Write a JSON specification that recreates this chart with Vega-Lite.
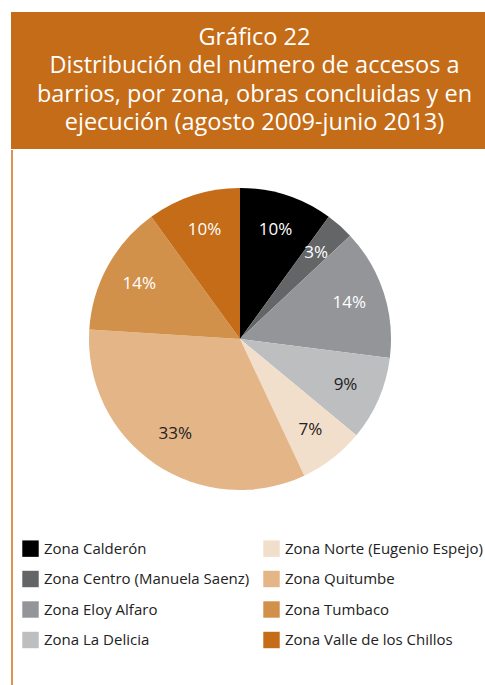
{
  "$schema": "https://vega.github.io/schema/vega-lite/v6.json",
  "padding": {"left": 10, "top": 12, "right": 0, "bottom": 0},
  "background": "white",
  "spacing": 0,
  "config": {
    "view": {"stroke": null},
    "font": "Open Sans",
    "concat": {"spacing": 0}
  },
  "vconcat": [
    {
      "width": 475,
      "height": 137,
      "view": {"fill": "#C46C17", "stroke": null},
      "data": {"values": [
        {"n": 1, "t": "Gráfico 22"},
        {"n": 2, "t": "Distribución del número de accesos a"},
        {"n": 3, "t": "barrios, por zona, obras concluidas y en"},
        {"n": 4, "t": "ejecución (agosto 2009-junio 2013)"}
      ]},
      "mark": {"type": "text", "color": "white", "fontSize": 23.5, "font": "Open Sans", "dx": 6},
      "encoding": {
        "y": {"field": "n", "type": "ordinal", "axis": null, "scale": {"padding": 0.9}},
        "text": {"field": "t"}
      }
    },
    {
      "spacing": 0,
      "hconcat": [
        {
          "width": 2,
          "height": 537,
          "view": {"fill": "#DD9450", "stroke": null},
          "data": {"values": [{}]},
          "mark": {"type": "rule", "opacity": 0},
          "encoding": {}
        },
        {
          "width": 454,
          "height": 378,
          "data": {"values": [
            {"zona": "Zona Calderón", "pct": 0.10, "orden": 1},
            {"zona": "Zona Centro (Manuela Saenz)", "pct": 0.03, "orden": 2},
            {"zona": "Zona Eloy Alfaro", "pct": 0.14, "orden": 3},
            {"zona": "Zona La Delicia", "pct": 0.09, "orden": 4},
            {"zona": "Zona Norte (Eugenio Espejo)", "pct": 0.07, "orden": 5},
            {"zona": "Zona Quitumbe", "pct": 0.33, "orden": 6},
            {"zona": "Zona Tumbaco", "pct": 0.14, "orden": 7},
            {"zona": "Zona Valle de los Chillos", "pct": 0.10, "orden": 8}
          ]},
          "encoding": {
            "theta": {"field": "pct", "type": "quantitative", "stack": true},
            "order": {"field": "orden", "type": "quantitative"}
          },
          "layer": [
            {
              "mark": {"type": "arc", "outerRadius": 151},
              "encoding": {
                "color": {
                  "field": "zona",
                  "type": "nominal",
                  "scale": {
                    "domain": ["Zona Calderón", "Zona Centro (Manuela Saenz)", "Zona Eloy Alfaro", "Zona La Delicia", "Zona Norte (Eugenio Espejo)", "Zona Quitumbe", "Zona Tumbaco", "Zona Valle de los Chillos"],
                    "range": ["#000000", "#646567", "#939598", "#BCBEC0", "#F2DFCB", "#E3B587", "#D2914B", "#C46C17"]
                  },
                  "legend": {
                    "title": null,
                    "orient": "none",
                    "legendX": 11,
                    "legendY": 528,
                    "columns": 2,
                    "columnPadding": 13,
                    "rowPadding": 13.5,
                    "symbolType": "square",
                    "symbolSize": 270,
                    "symbolStrokeWidth": 0,
                    "labelFontSize": 15,
                    "labelFont": "Open Sans",
                    "labelColor": "#222222",
                    "labelOffset": 5,
                    "labelLimit": 300
                  }
                }
              }
            },
            {
              "mark": {"type": "text", "radius": 115, "fontSize": 17, "font": "Open Sans"},
              "encoding": {
                "text": {"field": "pct", "type": "quantitative", "format": ".0%"},
                "color": {
                  "condition": {"test": "indexof(['Zona La Delicia','Zona Norte (Eugenio Espejo)','Zona Quitumbe'], datum.zona) >= 0", "value": "#222222"},
                  "value": "white"
                }
              }
            }
          ]
        }
      ]
    }
  ]
}
